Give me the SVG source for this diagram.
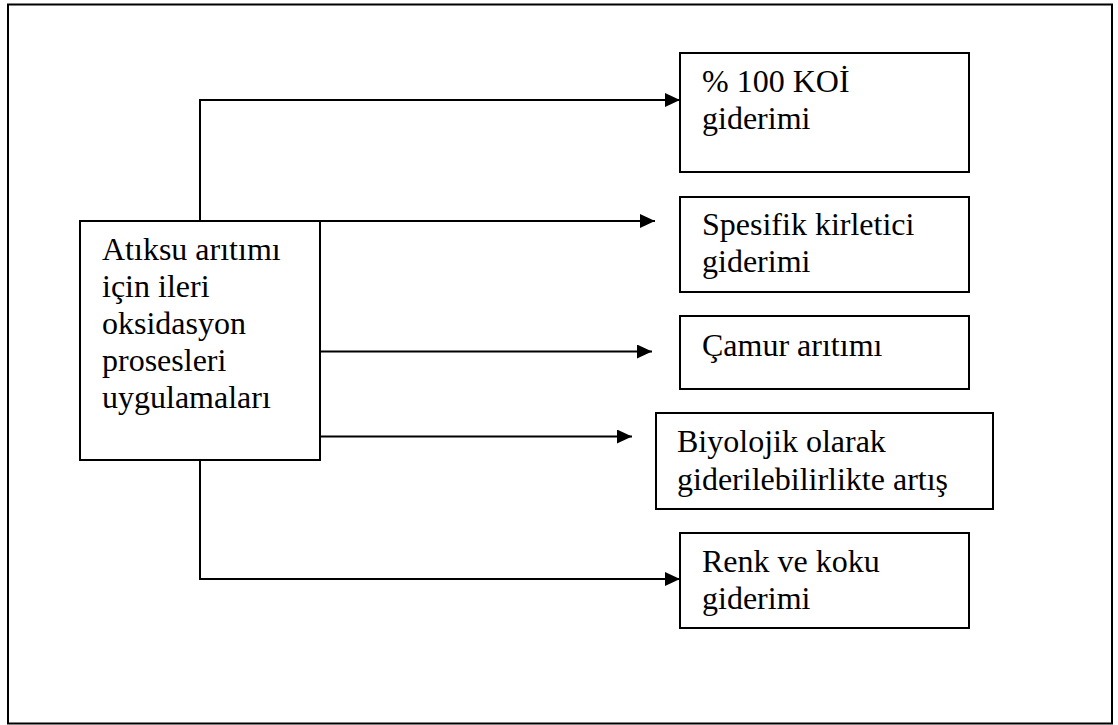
<svg xmlns="http://www.w3.org/2000/svg" width="1118" height="725" viewBox="0 0 1118 725">
<style>
.box{fill:#fff;stroke:#000;stroke-width:2}
.ln{fill:none;stroke:#000;stroke-width:2}
.t{font-family:"Liberation Serif","Times New Roman",serif;font-size:32px;fill:#000}
</style>
<defs>
<marker id="ah" markerWidth="15" markerHeight="14" refX="15" refY="7" orient="auto" markerUnits="userSpaceOnUse">
<path d="M0,0 L15,7 L0,14 Z" fill="#000"/>
</marker>
</defs>
<rect x="0" y="0" width="1118" height="725" fill="#fff"/>
<rect id="frame" x="8" y="4.5" width="1104" height="719" fill="none" stroke="#000" stroke-width="2"/>
<g id="connectors">
<path class="ln" d="M200,221 V100 H680" marker-end="url(#ah)"/>
<path class="ln" d="M320,221 H655" marker-end="url(#ah)"/>
<path class="ln" d="M320,351.5 H652" marker-end="url(#ah)"/>
<path class="ln" d="M320,436.5 H632" marker-end="url(#ah)"/>
<path class="ln" d="M200,460 V579 H680" marker-end="url(#ah)"/>
</g>
<g id="main">
<rect class="box" x="80" y="221" width="240" height="239"/>
<text class="t"><tspan x="102" y="260">Atıksu arıtımı</tspan><tspan x="102" y="297">için ileri</tspan><tspan x="102" y="334">oksidasyon</tspan><tspan x="102" y="371">prosesleri</tspan><tspan x="102" y="408">uygulamaları</tspan></text>
</g>
<g id="n1">
<rect class="box" x="680" y="53" width="289" height="119"/>
<text class="t"><tspan x="702" y="92">% 100 KOİ</tspan><tspan x="702" y="129">giderimi</tspan></text>
</g>
<g id="n2">
<rect class="box" x="680" y="197" width="289" height="95"/>
<text class="t"><tspan x="702" y="235">Spesifik kirletici</tspan><tspan x="702" y="272">giderimi</tspan></text>
</g>
<g id="n3">
<rect class="box" x="680" y="316" width="289" height="73"/>
<text class="t"><tspan x="702" y="356">Çamur arıtımı</tspan></text>
</g>
<g id="n4">
<rect class="box" x="656" y="413" width="337" height="96"/>
<text class="t"><tspan x="677" y="452">Biyolojik olarak</tspan><tspan x="677" y="490">giderilebilirlikte artış</tspan></text>
</g>
<g id="n5">
<rect class="box" x="680" y="533" width="289" height="95"/>
<text class="t"><tspan x="702" y="572">Renk ve koku</tspan><tspan x="702" y="609">giderimi</tspan></text>
</g>
</svg>
